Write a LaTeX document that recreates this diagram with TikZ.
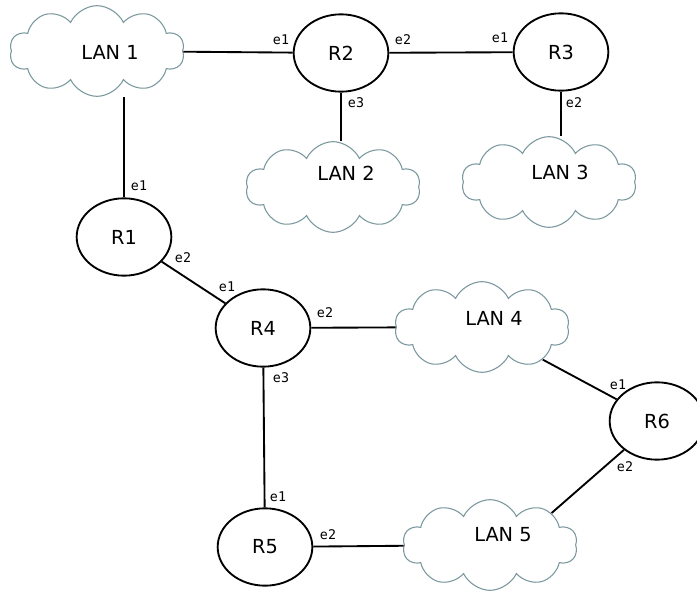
\documentclass[tikz,border=0pt]{standalone}
\usepackage{fontspec}
\setmainfont{DejaVu Sans}
\newfontfamily\portfont{DejaVu Sans Mono}
\usetikzlibrary{shapes.geometric, shapes.symbols}
\definecolor{cloudline}{RGB}{122,152,158}

\begin{document}
\begin{tikzpicture}[
        x = 0.75pt, y = -0.75pt,
 router/.style = {ellipse, draw, line width=1.4pt,
                  minimum width=71pt, minimum height=58pt,
                  font=\fontsize{14.5}{17}\selectfont},
    lan/.style = {cloud, cloud puffs=10, cloud puff arc=130, aspect=1.9,
                  draw=cloudline, line width=0.8pt, fill=white,
                  minimum width=131pt, minimum height=68pt, inner sep=0pt},
lantext/.style = {font=\fontsize{14.5}{17}\selectfont},
   port/.style = {font=\portfont\fontsize{10}{12}\selectfont, inner sep=1pt},
   link/.style = {line width=1.4pt}
                        ]
\useasboundingbox (0,0) rectangle (697,592);
% LANs
    \node[lan] (lan1) at (97,51)  {};
    \node[lan] (lan2) at (333,187) {};
    \node[lan] (lan3) at (549,182) {};
    \node[lan] (lan4) at (482,327) {};
    \node[lan] (lan5) at (490,545) {};
    \node[lantext] (lan1t) at (110,52)  {LAN 1};
    \node[lantext] (lan2t) at (346,173) {LAN 2};
    \node[lantext] (lan3t) at (560,172) {LAN 3};
    \node[lantext] (lan4t) at (494,318) {LAN 4};
    \node[lantext] (lan5t) at (503,535) {LAN 5};
% routers
    \node[router] (r1) at (124,237) {R1};
    \node[router] (r2) at (341,53)  {R2};
    \node[router] (r3) at (561,52)  {R3};
    \node[router] (r4) at (263,328) {R4};
    \node[router] (r5) at (265,547) {R5};
    \node[router] (r6) at (657,421) {R6};
% links
    \draw[link] (lan1) -- (r2);
    \draw[link] (r2) -- (r3);
    \draw[link] (r2) -- (r2 |- lan2.north);
    \draw[link] (r3) -- (r3 |- lan3.north);
    \draw[link] (r1) -- (r1 |- lan1.south);
    \draw[link] (r1) -- (r4);
    \draw[link] (r4) -- (lan4);
    \draw[link] (r4) -- (r5);
    \draw[link] (r5) -- (lan5);
    \draw[link] (lan4) -- (r6);
    \draw[link] (r6) -- (lan5.north east);
% interface names
    \node[port] (r2e1) at (281,40)  {e1};
    \node[port] (r2e2) at (403,40)  {e2};
    \node[port] (r3e1) at (500,38)  {e1};
    \node[port] (r2e3) at (356,103) {e3};
    \node[port] (r3e2) at (574,103) {e2};
    \node[port] (r1e1) at (139,186) {e1};
    \node[port] (r1e2) at (183,258) {e2};
    \node[port] (r4e1) at (227,287) {e1};
    \node[port] (r4e2) at (325,313) {e2};
    \node[port] (r4e3) at (281,378) {e3};
    \node[port] (r5e1) at (278,497) {e1};
    \node[port] (r5e2) at (328,535) {e2};
    \node[port] (r6e1) at (618,385) {e1};
    \node[port] (r6e2) at (625,467) {e2};
\end{tikzpicture}
\end{document}
